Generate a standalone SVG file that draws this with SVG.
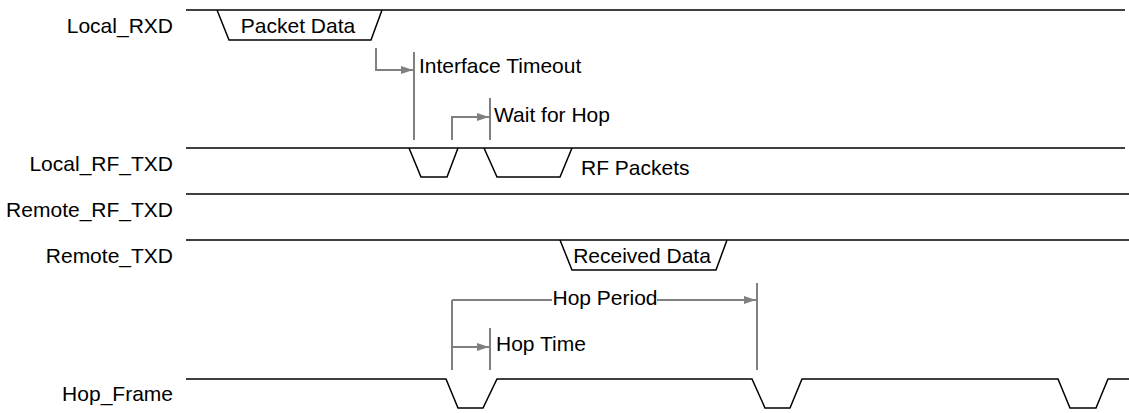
<svg xmlns="http://www.w3.org/2000/svg" width="1129" height="413" viewBox="0 0 1129 413">
<style>
text{font-family:"Liberation Sans",Arial,sans-serif;font-size:21px;fill:#000}
.lbl{text-anchor:end}
.sig{fill:none;stroke:#000;stroke-width:1.5;stroke-linejoin:miter}
.ann{fill:none;stroke:#808080;stroke-width:2}
</style>
<defs>
<marker id="ah" markerUnits="userSpaceOnUse" markerWidth="12" markerHeight="10" refX="12" refY="5" orient="auto">
<path d="M0,1 L12,5 L0,9 Z" fill="#808080"/>
</marker>
</defs>
<g id="Local_RXD">
<text class="lbl" x="173" y="33">Local_RXD</text>
<path class="sig" d="M186,10 H1125"/>
<path class="sig" d="M217,10 L229,40 H371 L382,10"/>
<text x="298" y="33" text-anchor="middle">Packet Data</text>
</g>
<g id="Local_RF_TXD">
<text class="lbl" x="173" y="171">Local_RF_TXD</text>
<path class="sig" d="M186,148 H1125"/>
<path class="sig" d="M409,148 L421,177 H447 L458,148"/>
<path class="sig" d="M484,148 L497,177 H560 L572,148"/>
<text x="581" y="175">RF Packets</text>
</g>
<g id="Remote_RF_TXD">
<text class="lbl" x="173" y="217">Remote_RF_TXD</text>
<path class="sig" d="M186,194 H1129"/>
</g>
<g id="Remote_TXD">
<text class="lbl" x="173" y="263">Remote_TXD</text>
<path class="sig" d="M186,240 H1129"/>
<path class="sig" d="M560,240 L572,270 H716 L727,240"/>
<text x="642" y="263" text-anchor="middle">Received Data</text>
</g>
<g id="Hop_Frame">
<text class="lbl" x="173" y="401">Hop_Frame</text>
<path class="sig" d="M186,379 H446 L458,408 H483 L497,379 H752 L765,408 H790 L802,379 H1058 L1070,408 H1096 L1108,379 H1129"/>
</g>
<g id="Interface_Timeout">
<path class="ann" d="M414,52 V140"/>
<text x="419" y="73">Interface Timeout</text>
</g>
<g id="Wait_for_Hop">
<path class="ann" d="M490,98 V140"/>
<text x="494" y="122">Wait for Hop</text>
</g>
<g id="Hop_Period">
<path class="ann" d="M452,300 V370"/>
<path class="ann" d="M757,283 V370"/>
<text x="605" y="305" text-anchor="middle">Hop Period</text>
</g>
<g id="Hop_Time">
<path class="ann" d="M490,328 V370"/>
<text x="496" y="351">Hop Time</text>
</g>
<g id="connectors">
<path class="ann" d="M376,48 V70 H413" marker-end="url(#ah)"/>
<path class="ann" d="M452,140 V117 H489" marker-end="url(#ah)"/>
<path class="ann" d="M452,300 H552"/>
<path class="ann" d="M657,300 H756" marker-end="url(#ah)"/>
<path class="ann" d="M452,347 H489" marker-end="url(#ah)"/>
</g>
</svg>
